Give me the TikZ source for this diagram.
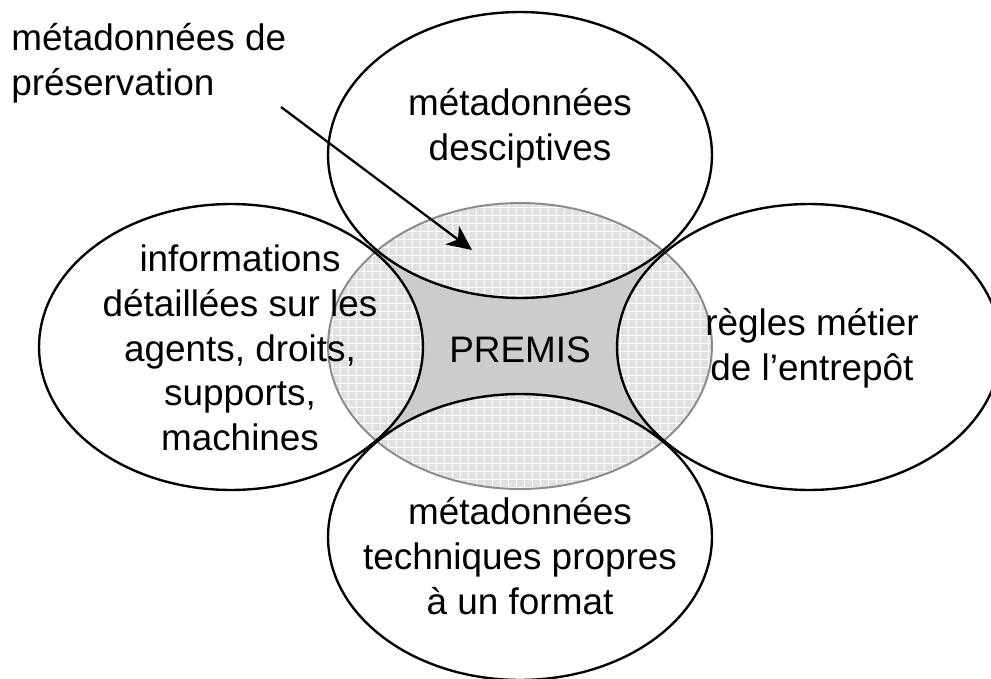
\documentclass[tikz,border=0pt]{standalone}
\usepackage{fontspec}
\setmainfont{Liberation Sans}
\usetikzlibrary{shapes.geometric,arrows.meta}
\definecolor{darkfill}{HTML}{CCCCCC}
\definecolor{lightfill}{HTML}{E0E0E0}
\definecolor{rimgray}{HTML}{8A8A8A}
\begin{document}
\begin{tikzpicture}[x=0.02cm,y=-0.02cm,
  lbl/.style={font=\fontsize{21}{25.5}\selectfont, align=center, inner sep=0pt},
  petal/.style={ellipse, draw=black, line width=1.35pt, minimum width=7.68cm, minimum height=5.72cm, inner sep=0pt},
  core/.style={ellipse, draw=rimgray, line width=1.1pt, minimum width=7.68cm, minimum height=5.72cm, inner sep=0pt},
  gridline/.style={white, line width=0.4pt},
  pointer/.style={line width=1.3pt, -{Stealth[length=14pt, width=13pt, inset=4pt]}}]
\useasboundingbox (0,0) rectangle (991,679);
% shaded centre
\begin{scope}
  \clip (520,346) ellipse [x radius=3.84cm, y radius=2.86cm];
  \fill[darkfill] (320,195) rectangle (720,495);
  \begin{scope}
    \clip (520,155) ellipse [x radius=3.84cm, y radius=2.86cm]
          (520,537) ellipse [x radius=3.84cm, y radius=2.86cm]
          (231,347) ellipse [x radius=3.84cm, y radius=2.86cm]
          (809,347) ellipse [x radius=3.84cm, y radius=2.86cm];
    \fill[lightfill] (320,195) rectangle (720,495);
    \foreach \gx in {324,332,...,716} \draw[gridline] (\gx,195) -- (\gx,495);
    \foreach \gy in {199,207,...,495} \draw[gridline] (320,\gy) -- (720,\gy);
  \end{scope}
\end{scope}
\node[core] (centre) at (520,346) {};
% petals
\node[petal] (top) at (520,155) {};
\node[petal] (bottom) at (520,537) {};
\node[petal] (left) at (231,347) {};
\node[petal] (right) at (809,347) {};
% texts
\node[lbl] (premis) at (520,350) {PREMIS};
\node[lbl] (toptext) at (520,128) {métadonnées\\desciptives};
\node[lbl] (lefttext) at (240,348) {informations\\détaillées sur les\\agents, droits,\\supports,\\machines};
\node[lbl] (righttext) at (812,348) {règles métier\\de l’entrepôt};
\node[lbl] (bottomtext) at (520,556) {métadonnées\\techniques propres\\à un format};
\node[lbl, align=left, anchor=west] (presv) at (11,63) {métadonnées de\\préservation};
% arrow
\coordinate (arrS) at (281,107);
\coordinate (arrE) at (472,250);
\draw[pointer] (arrS) -- (arrE);
\end{tikzpicture}
\end{document}
